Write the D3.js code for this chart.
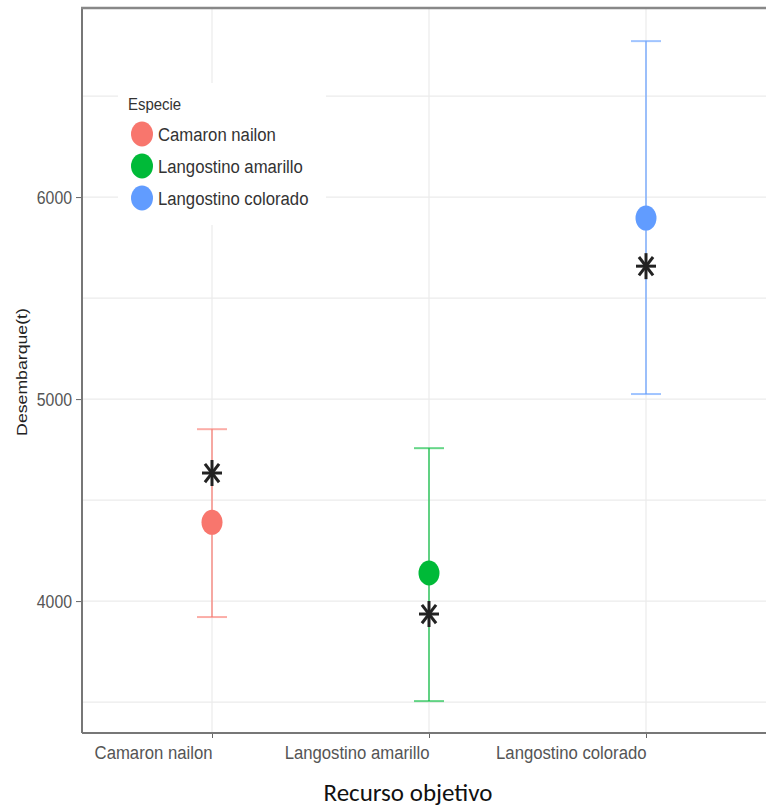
<!DOCTYPE html>
<html><head><meta charset="utf-8">
<script src="https://cdn.jsdelivr.net/npm/d3@7"></script>
<style>body{margin:0;background:#fff}svg{display:block}</style>
</head><body>
<svg id="chart" width="766" height="808"></svg>
<script>
const categories = ["Camaron nailon", "Langostino amarillo", "Langostino colorado"];
const meanValues = [4390, 4139, 5896];
const lowerValues = [3921, 3505, 5025];
const upperValues = [4851, 4757, 6772];
const starValues = [4634, 3936, 5658];
const colors = ["#F8766D", "#00BA38", "#619CFF"];
const yTicks = [4000, 5000, 6000];
const yGrid = [3500, 4000, 4500, 5000, 5500, 6000, 6500];
const legendTitle = "Especie";
const xTitle = "Recurso objetivo";
const yTitle = "Desembarque(t)";

const svg = d3.select("#chart");
const pLeft = 82, pTop = 8, pRight = 780, pBottom = 733;
const y = d3.scaleLinear().domain([3347, 6936]).range([pBottom, pTop]);
const x = d3.scalePoint().domain(categories).range([212, 646]);
const font = "Liberation Sans, Arial, sans-serif";
const sx = 0.88;

// gridlines
svg.append("g").selectAll("line").data(yGrid).join("line")
  .attr("x1", pLeft).attr("x2", pRight).attr("y1", d => y(d)).attr("y2", d => y(d))
  .attr("stroke", "#ebebeb").attr("stroke-width", 1.2);
svg.append("g").selectAll("line").data(categories).join("line")
  .attr("x1", d => x(d)).attr("x2", d => x(d)).attr("y1", pTop).attr("y2", pBottom)
  .attr("stroke", "#ebebeb").attr("stroke-width", 1.2);

// legend background
svg.append("rect").attr("x", 118).attr("y", 83).attr("width", 208).attr("height", 142).attr("fill", "#fff");

// axes
const yAxis = svg.append("g").attr("transform", `translate(${pLeft},0)`)
  .call(d3.axisLeft(y).tickValues(yTicks).tickSize(6).tickPadding(3).tickFormat(d3.format("d")));
yAxis.select(".domain").remove();
yAxis.selectAll("line").attr("stroke", "#666");
yAxis.selectAll("text").attr("font-family", font).attr("font-size", 18).attr("fill", "#555")
  .attr("x", -10 / sx).attr("transform", `scale(${sx},1)`).attr("dy", "0.36em");

const xAxis = svg.append("g").attr("transform", `translate(0,${pBottom})`)
  .call(d3.axisBottom(x).tickSize(5).tickPadding(8));
xAxis.select(".domain").remove();
xAxis.selectAll("line").attr("stroke", "#666");
xAxis.selectAll("text").attr("font-family", font).attr("font-size", 19)
  .attr("fill", "#555").attr("text-anchor", "end").attr("dy", "0.71em")
  .attr("transform", `scale(${sx},1)`);

// frame lines
svg.append("line").attr("x1", pLeft).attr("x2", pLeft).attr("y1", pTop).attr("y2", pBottom).attr("stroke", "#777").attr("stroke-width", 2);
svg.append("line").attr("x1", pLeft).attr("x2", pRight).attr("y1", pBottom).attr("y2", pBottom).attr("stroke", "#777").attr("stroke-width", 2);
svg.append("line").attr("x1", pLeft - 1).attr("x2", pRight).attr("y1", pTop).attr("y2", pTop).attr("stroke", "#888").attr("stroke-width", 2.5);

// error bars
const data = categories.map((c, i) => ({c, m: meanValues[i], lo: lowerValues[i], hi: upperValues[i], s: starValues[i], col: colors[i]}));
const eb = svg.append("g").selectAll("g").data(data).join("g").attr("stroke", d => d.col).attr("stroke-opacity", 0.6).attr("stroke-width", 2);
eb.append("line").attr("x1", d => x(d.c)).attr("x2", d => x(d.c)).attr("y1", d => y(d.hi)).attr("y2", d => y(d.lo));
eb.append("line").attr("x1", d => x(d.c) - 15).attr("x2", d => x(d.c) + 15).attr("y1", d => y(d.hi)).attr("y2", d => y(d.hi));
eb.append("line").attr("x1", d => x(d.c) - 15).attr("x2", d => x(d.c) + 15).attr("y1", d => y(d.lo)).attr("y2", d => y(d.lo));

// mean points
svg.append("g").selectAll("ellipse").data(data).join("ellipse")
  .attr("cx", d => x(d.c)).attr("cy", d => y(d.m)).attr("rx", 10.5).attr("ry", 12.5).attr("fill", d => d.col);

// stars (8-armed asterisk, slightly taller than wide)
const starG = svg.append("g").selectAll("g").data(data).join("g")
  .attr("transform", d => `translate(${x(d.c)},${y(d.s)})`).attr("stroke", "#222").attr("stroke-width", 3);
[0, 45, 90, 135].forEach(a => {
  const r = a * Math.PI / 180, Lx = 10, Ly = 13;
  starG.append("line").attr("x1", -Lx * Math.cos(r)).attr("y1", -Ly * Math.sin(r))
    .attr("x2", Lx * Math.cos(r)).attr("y2", Ly * Math.sin(r));
});

// legend
svg.append("text").attr("transform", `translate(128,110) scale(${sx},1)`).text(legendTitle)
  .attr("font-family", font).attr("font-size", 17).attr("fill", "#333");
const lg = svg.append("g").selectAll("g").data(data).join("g")
  .attr("transform", (d, i) => `translate(142,${134 + i * 32})`);
lg.append("ellipse").attr("rx", 11).attr("ry", 12.5).attr("fill", d => d.col);
lg.append("text").attr("transform", `translate(16,0) scale(${sx},1)`).attr("dy", "0.38em").text(d => d.c)
  .attr("font-family", font).attr("font-size", 19).attr("fill", "#333");

// titles
svg.append("text").attr("x", 408).attr("y", 801).attr("text-anchor", "middle").text(xTitle)
  .attr("font-family", "Carlito, Open Sans, sans-serif").attr("font-size", 25).attr("fill", "#111");
svg.append("text").attr("transform", "translate(27,372) rotate(-90) scale(1.18,1)").attr("text-anchor", "middle").text(yTitle)
  .attr("font-family", font).attr("font-size", 15).attr("fill", "#222");
</script>
</body></html>
